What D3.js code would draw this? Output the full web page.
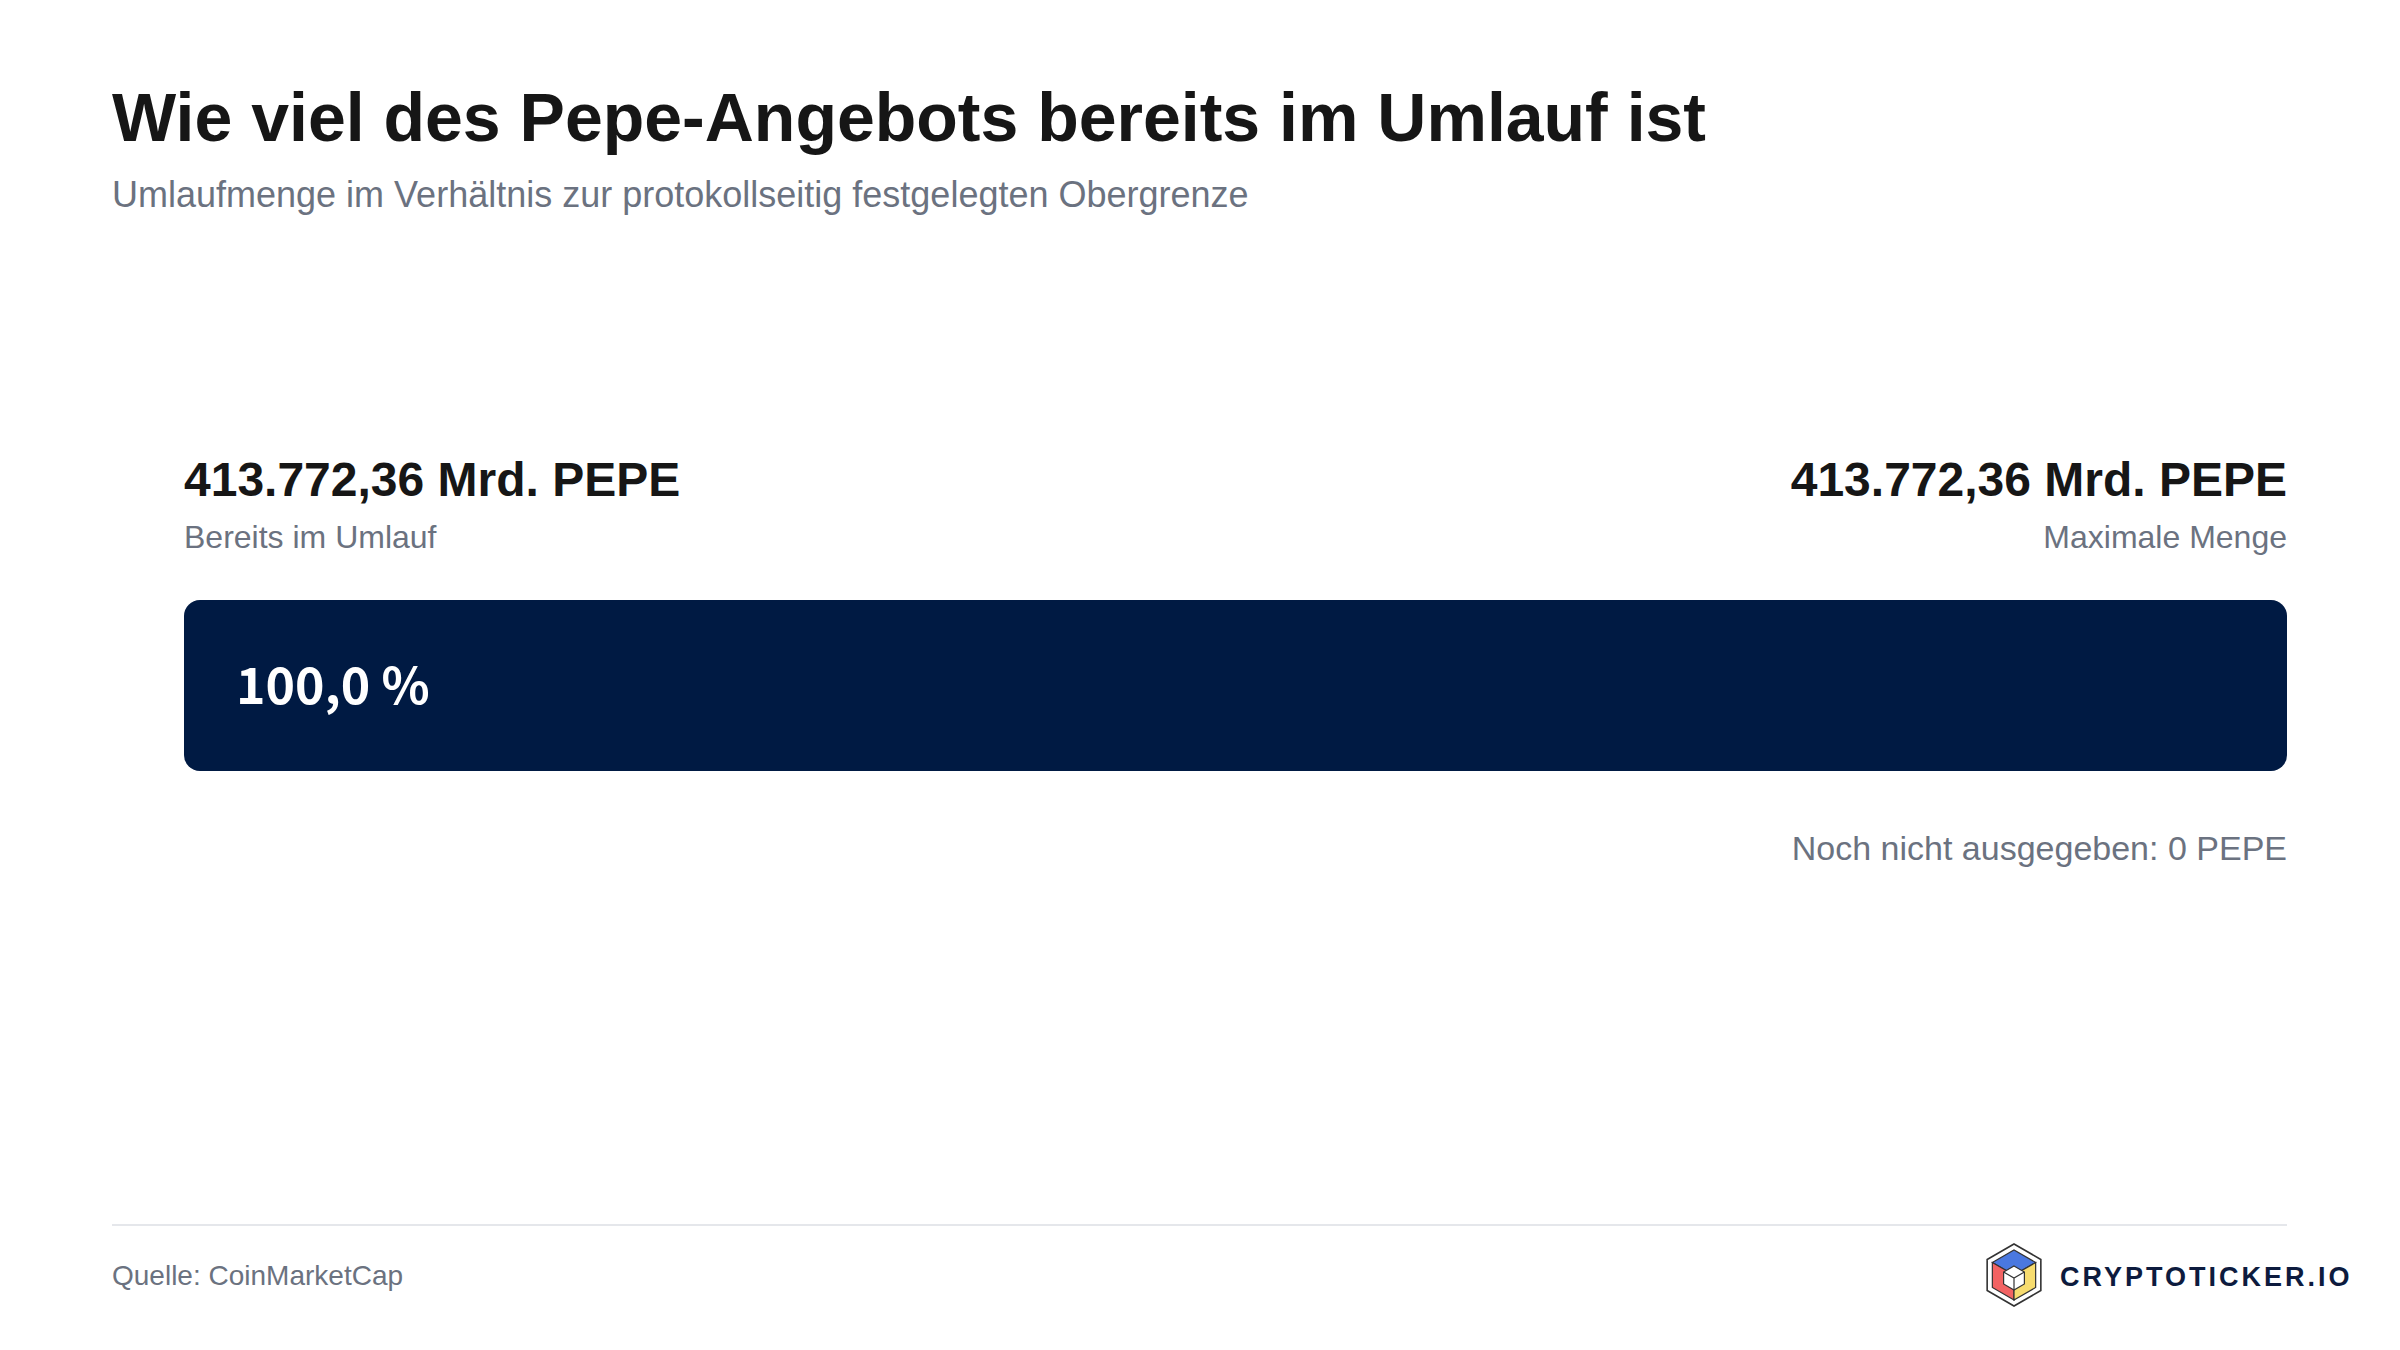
<!DOCTYPE html>
<html><head><meta charset="utf-8">
<script src="https://cdn.jsdelivr.net/npm/d3@7"></script>
<style>
html,body{margin:0;padding:0;background:#fff;}
svg{display:block;}
</style></head>
<body>
<svg id="chart" width="2400" height="1350"></svg>
<script>
// ---- data ----
const title = "Wie viel des Pepe-Angebots bereits im Umlauf ist";
const subtitle = "Umlaufmenge im Verhältnis zur protokollseitig festgelegten Obergrenze";
const categories = ["Bereits im Umlauf", "Maximale Menge"];
const supplyValues = [413772.36, 413772.36]; // Mrd. PEPE
const unit = "Mrd. PEPE";
const remainingLabel = "Noch nicht ausgegeben: 0 PEPE";
const source = "Quelle: CoinMarketCap";
const brand = "CRYPTOTICKER.IO";

const svg = d3.select("#chart");
const left = 112, right = 2287;
const barL = 184, barR = 2287, barTop = 600, barH = 171;

const loc = d3.formatLocale({decimal:",", thousands:".", grouping:[3], currency:["","€"]});
const fmtNum = v => loc.format(",.2f")(v);
const fmtPct = v => loc.format(".1f")(v) + " %";

const sans = "'Liberation Sans', Arial, Helvetica, sans-serif";

// title
svg.append("text").attr("x", left).attr("y", 141)
  .attr("font-family", sans).attr("font-weight", 700).attr("font-size", 68)
  .attr("fill", "#161616").text(title);
svg.append("text").attr("x", left).attr("y", 207)
  .attr("font-family", sans).attr("font-size", 36)
  .attr("fill", "#6b7280").text(subtitle);

// scale
const x = d3.scaleLinear().domain([0, supplyValues[1]]).range([barL, barR]);

// value labels
svg.append("text").attr("x", barL).attr("y", 496)
  .attr("font-family", sans).attr("font-weight", 700).attr("font-size", 48)
  .attr("fill", "#161616").text(fmtNum(supplyValues[0]) + " " + unit);
svg.append("text").attr("x", barL).attr("y", 548)
  .attr("font-family", sans).attr("font-size", 32)
  .attr("fill", "#6b7280").text(categories[0]);

svg.append("text").attr("x", barR).attr("y", 496).attr("text-anchor", "end")
  .attr("font-family", sans).attr("font-weight", 700).attr("font-size", 48)
  .attr("fill", "#161616").text(fmtNum(supplyValues[1]) + " " + unit);
svg.append("text").attr("x", barR).attr("y", 548).attr("text-anchor", "end")
  .attr("font-family", sans).attr("font-size", 32)
  .attr("fill", "#6b7280").text(categories[1]);

// track + bar
svg.append("rect").attr("x", x(0)).attr("y", barTop).attr("width", x(supplyValues[1]) - x(0)).attr("height", barH)
  .attr("rx", 16).attr("fill", "#e5e7eb");
svg.append("rect").attr("x", x(0)).attr("y", barTop).attr("width", x(supplyValues[0]) - x(0)).attr("height", barH)
  .attr("rx", 16).attr("fill", "#001a43");

const pct = supplyValues[0] / supplyValues[1] * 100;
svg.append("text").attr("x", x(0) + 52).attr("y", barTop + 104)
  .attr("font-family", "'Noto Sans CJK SC', 'Open Sans', sans-serif").attr("font-weight", 700).attr("font-size", 50)
  .attr("fill", "#ffffff").text(fmtPct(pct));

svg.append("text").attr("x", barR).attr("y", 860).attr("text-anchor", "end")
  .attr("font-family", sans).attr("font-size", 34)
  .attr("fill", "#6b7280").text(remainingLabel);

// footer
svg.append("line").attr("x1", left).attr("x2", right).attr("y1", 1225).attr("y2", 1225)
  .attr("stroke", "#e5e7eb").attr("stroke-width", 2);
svg.append("text").attr("x", left).attr("y", 1285)
  .attr("font-family", sans).attr("font-size", 28)
  .attr("fill", "#6b7280").text(source);

// logo
const lg = svg.append("g").attr("transform", "translate(2014,1275)");
const hexPts = (rad, dy) => d3.range(6).map(i => { const a = Math.PI/180*(60*i - 90); return [rad*Math.cos(a), rad*Math.sin(a) + dy]; });
const pts = arr => arr.map(p => p.join(",")).join(" ");
lg.append("polygon").attr("points", pts(hexPts(31, 0))).attr("fill","#fff").attr("stroke","#333").attr("stroke-width",1.6);
const h2 = hexPts(25, 0);
const c = [0,0];
lg.append("polygon").attr("points", pts([h2[5],h2[0],h2[1],c])).attr("fill","#4a78e0").attr("stroke","#333").attr("stroke-width",1.2);
lg.append("polygon").attr("points", pts([h2[3],h2[4],h2[5],c])).attr("fill","#f26363").attr("stroke","#333").attr("stroke-width",1.2);
lg.append("polygon").attr("points", pts([h2[1],h2[2],h2[3],c])).attr("fill","#f7dc6f").attr("stroke","#333").attr("stroke-width",1.2);
const hi = hexPts(12, 3);
const ci = [0,3];
lg.append("polygon").attr("points", pts(hi)).attr("fill","#fff").attr("stroke","#333").attr("stroke-width",1.2);
lg.append("path").attr("d", `M${hi[5]}L${ci}L${hi[1]}M${ci}L${hi[3]}`).attr("fill","none").attr("stroke","#333").attr("stroke-width",1.2);

svg.append("text").attr("x", 2060).attr("y", 1286)
  .attr("font-family", sans).attr("font-weight", 700).attr("font-size", 27)
  .attr("letter-spacing", 3)
  .attr("fill", "#0d1b3e").text(brand);
</script>
</body></html>
